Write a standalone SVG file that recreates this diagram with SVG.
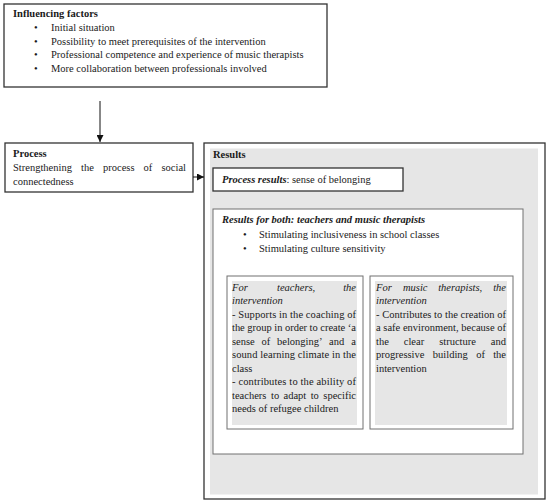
<svg xmlns="http://www.w3.org/2000/svg" width="550" height="504" viewBox="0 0 550 504">
<defs>
<style>
text{font-family:"Liberation Serif","Times New Roman",serif;font-size:10.5px;fill:#1a1a1a}
.b{font-weight:bold}
.i{font-style:italic}
.bi{font-weight:bold;font-style:italic}
.e{text-anchor:end}
.box{fill:#fff;stroke:#333;stroke-width:1.3}
.sub{fill:#fff;stroke:#707070;stroke-width:1}
.shade{fill:#e6e6e6}
.conn{stroke:#111;stroke-width:1;fill:none}
</style>
<marker id="ah" viewBox="0 0 10 10" refX="10" refY="5" markerWidth="7" markerHeight="7" markerUnits="userSpaceOnUse" orient="auto">
<path d="M0,0 L10,5 L0,10 Z" fill="#111"/>
</marker>
</defs>
<rect width="550" height="504" fill="#fff"/>

<g id="influencing">
<rect class="box" x="4" y="4" width="323" height="83"/>
<text class="b" x="13" y="17">Influencing factors</text>
<text x="34" y="31">•</text><text x="51" y="31">Initial situation</text>
<text x="34" y="44.5">•</text><text x="51" y="44.5">Possibility to meet prerequisites of the intervention</text>
<text x="34" y="58">•</text><text x="51" y="58">Professional competence and experience of music therapists</text>
<text x="34" y="71.5">•</text><text x="51" y="71.5">More collaboration between professionals involved</text>
</g>

<g id="process">
<rect class="box" x="5" y="143" width="188" height="49"/>
<text class="b" x="13" y="157">Process</text>
<text x="13" y="171">Strengthening</text>
<text x="81" y="171">the</text>
<text x="103" y="171">process</text>
<text x="143.5" y="171">of</text>
<text class="e" x="186" y="171">social</text>
<text x="13" y="184.5">connectedness</text>
</g>

<g id="results">
<rect class="box" x="204" y="143" width="341" height="356"/>
<rect class="shade" x="210" y="148.5" width="328" height="346"/>
<text class="b" x="213" y="158">Results</text>
</g>

<g id="process-results">
<rect class="box" x="213" y="168" width="190" height="23"/>
<text x="222" y="183"><tspan class="bi">Process results</tspan>: sense of belonging</text>
</g>

<g id="results-both">
<rect class="sub" x="213" y="209" width="310" height="245"/>
<text class="bi" x="222" y="223">Results for both: teachers and music therapists</text>
<text x="243" y="238">•</text><text x="259" y="238">Stimulating inclusiveness in school classes</text>
<text x="243" y="251.5">•</text><text x="259" y="251.5">Stimulating culture sensitivity</text>
</g>

<g id="teachers">
<rect class="sub" x="227" y="276" width="136" height="153"/>
<rect class="shade" x="232" y="281" width="125" height="144"/>
<text class="i" x="232" y="290.5">For</text>
<text class="i" x="277" y="290.5">teachers,</text>
<text class="i e" x="356" y="290.5">the</text>
<text class="i" x="232" y="304">intervention</text>
<text x="232" y="317.5" textLength="124" lengthAdjust="spacing">- Supports in the coaching of</text>
<text x="232" y="331" textLength="124" lengthAdjust="spacing">the group in order to create ‘a</text>
<text x="232" y="344.5">sense</text>
<text x="261.5" y="344.5">of</text>
<text x="277" y="344.5">belonging’</text>
<text x="329" y="344.5">and</text>
<text class="e" x="356" y="344.5">a</text>
<text x="232" y="358" textLength="124" lengthAdjust="spacing">sound learning climate in the</text>
<text x="232" y="371.5">class</text>
<text x="232" y="385" textLength="124" lengthAdjust="spacing">- contributes to the ability of</text>
<text x="232" y="398.5">teachers</text>
<text x="271" y="398.5">to</text>
<text x="283.5" y="398.5">adapt</text>
<text x="310.7" y="398.5">to</text>
<text class="e" x="356" y="398.5">specific</text>
<text x="232" y="412">needs of refugee children</text>
</g>

<g id="therapists">
<rect class="sub" x="370" y="276" width="143" height="153"/>
<rect class="shade" x="375" y="281" width="132" height="144"/>
<text class="i" x="376" y="290.5">For</text>
<text class="i" x="403" y="290.5">music</text>
<text class="i" x="438.2" y="290.5">therapists,</text>
<text class="i e" x="506" y="290.5">the</text>
<text class="i" x="376" y="304">intervention</text>
<text x="376" y="317.5" textLength="130" lengthAdjust="spacing">- Contributes to the creation of</text>
<text x="376" y="331" textLength="130" lengthAdjust="spacing">a safe environment, because of</text>
<text x="376" y="344.5">the</text>
<text x="403.8" y="344.5">clear</text>
<text x="439.2" y="344.5">structure</text>
<text class="e" x="506" y="344.5">and</text>
<text x="376" y="358">progressive</text>
<text x="432.8" y="358">building</text>
<text x="476.2" y="358">of</text>
<text class="e" x="506" y="358">the</text>
<text x="376" y="371.5">intervention</text>
</g>

<g id="connectors">
<line class="conn" x1="100" y1="101" x2="100" y2="142" marker-end="url(#ah)"/>
<line class="conn" x1="193" y1="177" x2="204" y2="177" marker-end="url(#ah)"/>
</g>
</svg>
